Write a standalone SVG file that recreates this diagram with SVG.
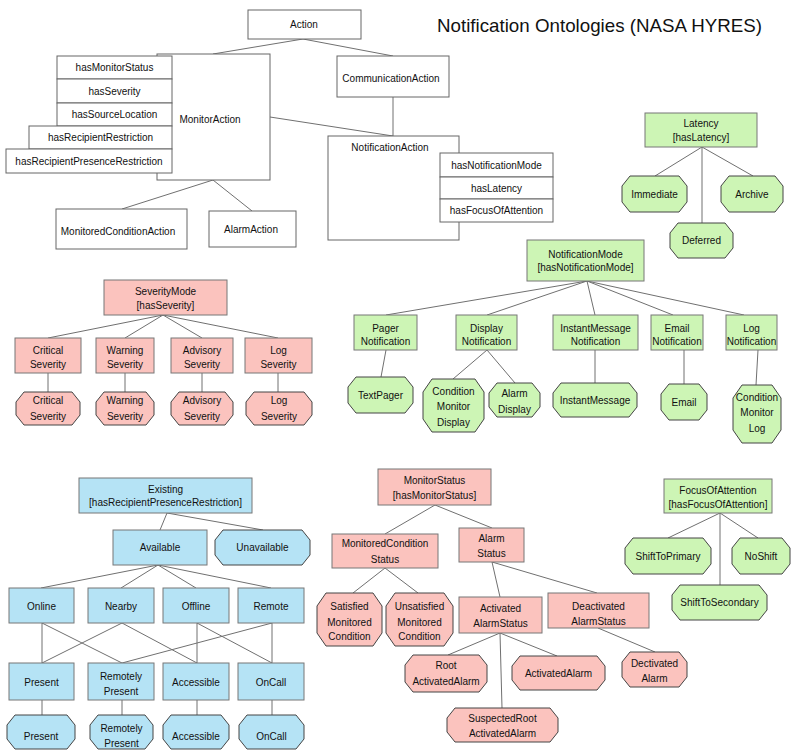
<svg xmlns="http://www.w3.org/2000/svg" width="792" height="752" viewBox="0 0 792 752">
<style>
.b{fill:#fff;stroke:#666;stroke-width:1}
.pk{fill:#FBC3BE;stroke:#777;stroke-width:1}
.gr{fill:#CDF5B5;stroke:#777;stroke-width:1}
.bl{fill:#B5E3F5;stroke:#777;stroke-width:1}
.op{fill:#FBC3BE;stroke:#444;stroke-width:1}
.og{fill:#CDF5B5;stroke:#444;stroke-width:1}
.ob{fill:#B5E3F5;stroke:#444;stroke-width:1}
.ln line{stroke:#707070;stroke-width:1}
text{font-family:"Liberation Sans",Arial,sans-serif;font-size:10px;fill:#111;text-anchor:middle}
.title{font-size:18.5px;text-anchor:start}
</style>
<rect width="792" height="752" fill="#fff"/>
<text class="title" x="437" y="32" textLength="325" lengthAdjust="spacingAndGlyphs">Notification Ontologies (NASA HYRES)</text>

<g id="connectors" class="ln">
<line x1="303" y1="39" x2="213" y2="54"/>
<line x1="303" y1="39" x2="393" y2="56"/>
<line x1="393" y1="97" x2="393" y2="136"/>
<line x1="270" y1="117" x2="393" y2="136"/>
<line x1="213" y1="180" x2="122" y2="209"/>
<line x1="213" y1="180" x2="252" y2="211"/>
<line x1="702" y1="147" x2="655" y2="176"/>
<line x1="702" y1="147" x2="702" y2="223"/>
<line x1="702" y1="147" x2="753" y2="176"/>
<line x1="587" y1="281" x2="386" y2="315"/>
<line x1="587" y1="281" x2="487" y2="315"/>
<line x1="587" y1="281" x2="595" y2="315"/>
<line x1="587" y1="281" x2="673" y2="315"/>
<line x1="587" y1="281" x2="744" y2="315"/>
<line x1="386" y1="350" x2="381" y2="377"/>
<line x1="487" y1="350" x2="453" y2="379"/>
<line x1="487" y1="350" x2="515" y2="383"/>
<line x1="595" y1="350" x2="595" y2="383"/>
<line x1="684" y1="350" x2="684" y2="384"/>
<line x1="758" y1="350" x2="756" y2="385"/>
<line x1="163" y1="315" x2="48" y2="338"/>
<line x1="163" y1="315" x2="125" y2="338"/>
<line x1="163" y1="315" x2="202" y2="338"/>
<line x1="163" y1="315" x2="278" y2="338"/>
<line x1="48" y1="373" x2="48" y2="392"/>
<line x1="125" y1="373" x2="125" y2="392"/>
<line x1="202" y1="373" x2="202" y2="392"/>
<line x1="278" y1="373" x2="278" y2="392"/>
<line x1="167" y1="513" x2="160" y2="530"/>
<line x1="167" y1="513" x2="263" y2="530"/>
<line x1="158" y1="565" x2="41" y2="588"/>
<line x1="158" y1="565" x2="121" y2="588"/>
<line x1="158" y1="565" x2="196" y2="588"/>
<line x1="158" y1="565" x2="271" y2="588"/>
<line x1="42" y1="623" x2="42" y2="663"/>
<line x1="42" y1="623" x2="122" y2="663"/>
<line x1="122" y1="623" x2="42" y2="663"/>
<line x1="122" y1="623" x2="197" y2="663"/>
<line x1="197" y1="623" x2="197" y2="663"/>
<line x1="197" y1="623" x2="272" y2="663"/>
<line x1="272" y1="623" x2="122" y2="663"/>
<line x1="272" y1="623" x2="272" y2="663"/>
<line x1="42" y1="700" x2="42" y2="715"/>
<line x1="122" y1="700" x2="122" y2="715"/>
<line x1="197" y1="700" x2="197" y2="715"/>
<line x1="272" y1="700" x2="272" y2="715"/>
<line x1="435" y1="505" x2="385" y2="534"/>
<line x1="435" y1="505" x2="492" y2="528"/>
<line x1="385" y1="568" x2="353" y2="593"/>
<line x1="385" y1="568" x2="418" y2="593"/>
<line x1="492" y1="562" x2="500" y2="597"/>
<line x1="492" y1="562" x2="597" y2="593"/>
<line x1="500" y1="633" x2="448" y2="655"/>
<line x1="500" y1="633" x2="557" y2="656"/>
<line x1="500" y1="633" x2="502" y2="708"/>
<line x1="598" y1="628" x2="655" y2="652"/>
<line x1="720" y1="513" x2="668" y2="538"/>
<line x1="720" y1="513" x2="758" y2="538"/>
<line x1="720" y1="513" x2="720" y2="585"/>
</g>

<g id="action"><rect class="b" x="248" y="10" width="113" height="29"/><text x="304" y="28">Action</text></g>
<g id="monitorAction"><rect class="b" x="157" y="54" width="113" height="126"/><text x="210" y="123">MonitorAction</text></g>
<g id="monitorActionProps">
<rect class="b" x="57" y="56" width="115" height="23"/><text x="114.5" y="71">hasMonitorStatus</text>
<rect class="b" x="57" y="79" width="115" height="24"/><text x="114.5" y="94.5">hasSeverity</text>
<rect class="b" x="57" y="103" width="115" height="23"/><text x="114.5" y="118">hasSourceLocation</text>
<rect class="b" x="29" y="126" width="143" height="23"/><text x="100.5" y="141">hasRecipientRestriction</text>
<rect class="b" x="6" y="149" width="166" height="24"/><text x="89" y="164.5">hasRecipientPresenceRestriction</text>
</g>
<g id="monitoredConditionAction"><rect class="b" x="56" y="209" width="131" height="40"/><text x="118" y="234.5">MonitoredConditionAction</text></g>
<g id="alarmAction"><rect class="b" x="209" y="211" width="87" height="36"/><text x="251" y="232.5">AlarmAction</text></g>
<g id="communicationAction"><rect class="b" x="337" y="56" width="112" height="41"/><text x="391" y="82">CommunicationAction</text></g>
<g id="notificationAction"><rect class="b" x="328" y="136" width="131" height="104"/><text x="390" y="150.5">NotificationAction</text></g>
<g id="notificationActionProps">
<rect class="b" x="440" y="153" width="113" height="24"/><text x="496.5" y="168.5">hasNotificationMode</text>
<rect class="b" x="440" y="177" width="113" height="22"/><text x="496.5" y="191.5">hasLatency</text>
<rect class="b" x="440" y="199" width="113" height="23"/><text x="496.5" y="214">hasFocusOfAttention</text>
</g>

<g id="latency"><rect class="gr" x="645" y="113" width="112" height="34"/><text x="701" y="126.5">Latency</text><text x="701" y="140.5">[hasLatency]</text></g>
<g id="immediate"><polygon class="og" points="630,176 679,176 687,186 687,202 679,212 630,212 622,202 622,186"/><text x="654.5" y="197.5">Immediate</text></g>
<g id="archive"><polygon class="og" points="729,176 775,176 783,186 783,202 775,212 729,212 721,202 721,186"/><text x="752" y="197.5">Archive</text></g>
<g id="deferred"><polygon class="og" points="678,223 725,223 733,233 733,248 725,258 678,258 670,248 670,233"/><text x="701.5" y="244">Deferred</text></g>

<g id="notificationMode"><rect class="gr" x="527" y="240" width="117" height="41"/><text x="585.5" y="257.5">NotificationMode</text><text x="585.5" y="270.5">[hasNotificationMode]</text></g>
<g id="pagerNotification"><rect class="gr" x="354" y="315" width="63" height="35"/><text x="385.5" y="331.5">Pager</text><text x="385.5" y="344.5">Notification</text></g>
<g id="displayNotification"><rect class="gr" x="456" y="315" width="61" height="35"/><text x="486.5" y="331.5">Display</text><text x="486.5" y="344.5">Notification</text></g>
<g id="instantMessageNotification"><rect class="gr" x="553" y="315" width="85" height="35"/><text x="595.5" y="331.5">InstantMessage</text><text x="595.5" y="344.5">Notification</text></g>
<g id="emailNotification"><rect class="gr" x="651" y="315" width="52" height="35"/><text x="677" y="331.5">Email</text><text x="677" y="344.5">Notification</text></g>
<g id="logNotification"><rect class="gr" x="726" y="315" width="51" height="35"/><text x="751.5" y="331.5">Log</text><text x="751.5" y="344.5">Notification</text></g>
<g id="textPager"><polygon class="og" points="356,377 405,377 413,387 413,403 405,413 356,413 348,403 348,387"/><text x="380.5" y="398.5">TextPager</text></g>
<g id="conditionMonitorDisplay"><polygon class="og" points="432,379 475,379 484,392 484,419 475,432 432,432 423,419 423,392"/><text x="453.5" y="394.5">Condition</text><text x="453.5" y="409.5">Monitor</text><text x="453.5" y="425.5">Display</text></g>
<g id="alarmDisplay"><polygon class="og" points="497,383 532,383 540,393 540,407 532,417 497,417 489,407 489,393"/><text x="514.5" y="396.5">Alarm</text><text x="514.5" y="412.5">Display</text></g>
<g id="instantMessage"><polygon class="og" points="561,383 629,383 637,393 637,407 629,417 561,417 553,407 553,393"/><text x="595" y="403.5">InstantMessage</text></g>
<g id="email"><polygon class="og" points="669,384 699,384 707,394 707,410 699,420 669,420 661,410 661,394"/><text x="684" y="405.5">Email</text></g>
<g id="conditionMonitorLog"><polygon class="og" points="742,385 772,385 781,398 781,430 772,443 742,443 733,430 733,398"/><text x="757" y="400.5">Condition</text><text x="757" y="415.5">Monitor</text><text x="757" y="431.5">Log</text></g>

<g id="severityMode"><rect class="pk" x="104" y="280" width="123" height="35"/><text x="165.5" y="294.5">SeverityMode</text><text x="165.5" y="308.5">[hasSeverity]</text></g>
<g id="criticalSeverity"><rect class="pk" x="15" y="338" width="66" height="35"/><text x="48" y="353.5">Critical</text><text x="48" y="367.5">Severity</text></g>
<g id="warningSeverity"><rect class="pk" x="96" y="338" width="58" height="35"/><text x="125" y="353.5">Warning</text><text x="125" y="367.5">Severity</text></g>
<g id="advisorySeverity"><rect class="pk" x="171" y="338" width="62" height="35"/><text x="202" y="353.5">Advisory</text><text x="202" y="367.5">Severity</text></g>
<g id="logSeverity"><rect class="pk" x="245" y="338" width="67" height="35"/><text x="278.5" y="353.5">Log</text><text x="278.5" y="367.5">Severity</text></g>
<g id="criticalSeverityInst"><polygon class="op" points="24,392 72,392 80,402 80,415 72,425 24,425 16,415 16,402"/><text x="48" y="403.5">Critical</text><text x="48" y="419.5">Severity</text></g>
<g id="warningSeverityInst"><polygon class="op" points="104,392 146,392 154,402 154,415 146,425 104,425 96,415 96,402"/><text x="125" y="403.5">Warning</text><text x="125" y="419.5">Severity</text></g>
<g id="advisorySeverityInst"><polygon class="op" points="179,392 225,392 233,402 233,415 225,425 179,425 171,415 171,402"/><text x="202" y="403.5">Advisory</text><text x="202" y="419.5">Severity</text></g>
<g id="logSeverityInst"><polygon class="op" points="254,392 304,392 312,402 312,415 304,425 254,425 246,415 246,402"/><text x="279" y="403.5">Log</text><text x="279" y="419.5">Severity</text></g>

<g id="existing"><rect class="bl" x="79" y="478" width="173" height="35"/><text x="165.5" y="492.5">Existing</text><text x="165.5" y="505.5">[hasRecipientPresenceRestriction]</text></g>
<g id="available"><rect class="bl" x="113" y="530" width="94" height="35"/><text x="160" y="551">Available</text></g>
<g id="unavailable"><polygon class="ob" points="223,530 302,530 310,540 310,555 302,565 223,565 215,555 215,540"/><text x="262.5" y="551">Unavailable</text></g>
<g id="online"><rect class="bl" x="9" y="588" width="65" height="35"/><text x="41.5" y="610">Online</text></g>
<g id="nearby"><rect class="bl" x="88" y="588" width="66" height="35"/><text x="121" y="610">Nearby</text></g>
<g id="offline"><rect class="bl" x="163" y="588" width="66" height="35"/><text x="196" y="610">Offline</text></g>
<g id="remote"><rect class="bl" x="238" y="588" width="66" height="35"/><text x="271" y="610">Remote</text></g>
<g id="present"><rect class="bl" x="9" y="663" width="65" height="37"/><text x="41.5" y="685.5">Present</text></g>
<g id="remotelyPresent"><rect class="bl" x="88" y="663" width="66" height="37"/><text x="121" y="679.5">Remotely</text><text x="121" y="694.5">Present</text></g>
<g id="accessible"><rect class="bl" x="163" y="663" width="66" height="37"/><text x="196" y="685.5">Accessible</text></g>
<g id="onCall"><rect class="bl" x="238" y="663" width="66" height="37"/><text x="271" y="685.5">OnCall</text></g>
<g id="presentInst"><polygon class="ob" points="15,715 67,715 75,725 75,739 67,749 15,749 7,739 7,725"/><text x="41" y="739.5">Present</text></g>
<g id="remotelyPresentInst"><polygon class="ob" points="98,715 145,715 153,725 153,739 145,749 98,749 90,739 90,725"/><text x="121.5" y="731.5">Remotely</text><text x="121.5" y="746.5">Present</text></g>
<g id="accessibleInst"><polygon class="ob" points="171,715 221,715 229,725 229,739 221,749 171,749 163,739 163,725"/><text x="196" y="739.5">Accessible</text></g>
<g id="onCallInst"><polygon class="ob" points="247,715 296,715 304,725 304,739 296,749 247,749 239,739 239,725"/><text x="271.5" y="739.5">OnCall</text></g>

<g id="monitorStatus"><rect class="pk" x="378" y="469" width="113" height="36"/><text x="434.5" y="483.5">MonitorStatus</text><text x="434.5" y="498.5">[hasMonitorStatus]</text></g>
<g id="monitoredConditionStatus"><rect class="pk" x="332" y="534" width="106" height="34"/><text x="385" y="546.5">MonitoredCondition</text><text x="385" y="562.5">Status</text></g>
<g id="alarmStatus"><rect class="pk" x="459" y="528" width="65" height="34"/><text x="491.5" y="541.5">Alarm</text><text x="491.5" y="556.5">Status</text></g>
<g id="satisfied"><polygon class="op" points="326,593 373,593 382,606 382,633 373,646 326,646 317,633 317,606"/><text x="349.5" y="609.5">Satisfied</text><text x="349.5" y="625.5">Monitored</text><text x="349.5" y="639.5">Condition</text></g>
<g id="unsatisfied"><polygon class="op" points="395,593 444,593 453,606 453,633 444,646 395,646 386,633 386,606"/><text x="419.5" y="609.5">Unsatisfied</text><text x="419.5" y="625.5">Monitored</text><text x="419.5" y="639.5">Condition</text></g>
<g id="activatedAlarmStatus"><rect class="pk" x="459" y="597" width="83" height="36"/><text x="500.5" y="611.5">Activated</text><text x="500.5" y="626.5">AlarmStatus</text></g>
<g id="deactivatedAlarmStatus"><rect class="pk" x="548" y="593" width="101" height="35"/><text x="598.5" y="609.5">Deactivated</text><text x="598.5" y="624.5">AlarmStatus</text></g>
<g id="rootActivatedAlarm"><polygon class="op" points="413,655 479,655 487,665 487,682 479,692 413,692 405,682 405,665"/><text x="446" y="668.5">Root</text><text x="446" y="684.5">ActivatedAlarm</text></g>
<g id="activatedAlarm"><polygon class="op" points="520,656 597,656 605,666 605,680 597,690 520,690 512,680 512,666"/><text x="558.5" y="676.5">ActivatedAlarm</text></g>
<g id="suspectedRootActivatedAlarm"><polygon class="op" points="455,708 550,708 558,718 558,732 550,742 455,742 447,732 447,718"/><text x="502.5" y="721.5">SuspectedRoot</text><text x="502.5" y="736.5">ActivatedAlarm</text></g>
<g id="dectivatedAlarm"><polygon class="op" points="630,652 679,652 687,662 687,677 679,687 630,687 622,677 622,662"/><text x="654.5" y="666.5">Dectivated</text><text x="654.5" y="681.5">Alarm</text></g>

<g id="focusOfAttention"><rect class="gr" x="664" y="479" width="108" height="34"/><text x="718" y="493.5">FocusOfAttention</text><text x="718" y="507.5">[hasFocusOfAttention]</text></g>
<g id="shiftToPrimary"><polygon class="og" points="633,538 703,538 711,548 711,564 703,574 633,574 625,564 625,548"/><text x="668" y="559.5">ShiftToPrimary</text></g>
<g id="noShift"><polygon class="og" points="740,538 782,538 790,548 790,564 782,574 740,574 732,564 732,548"/><text x="761" y="559.5">NoShift</text></g>
<g id="shiftToSecondary"><polygon class="og" points="680,585 759,585 767,595 767,610 759,620 680,620 672,610 672,595"/><text x="719.5" y="606">ShiftToSecondary</text></g>
</svg>
